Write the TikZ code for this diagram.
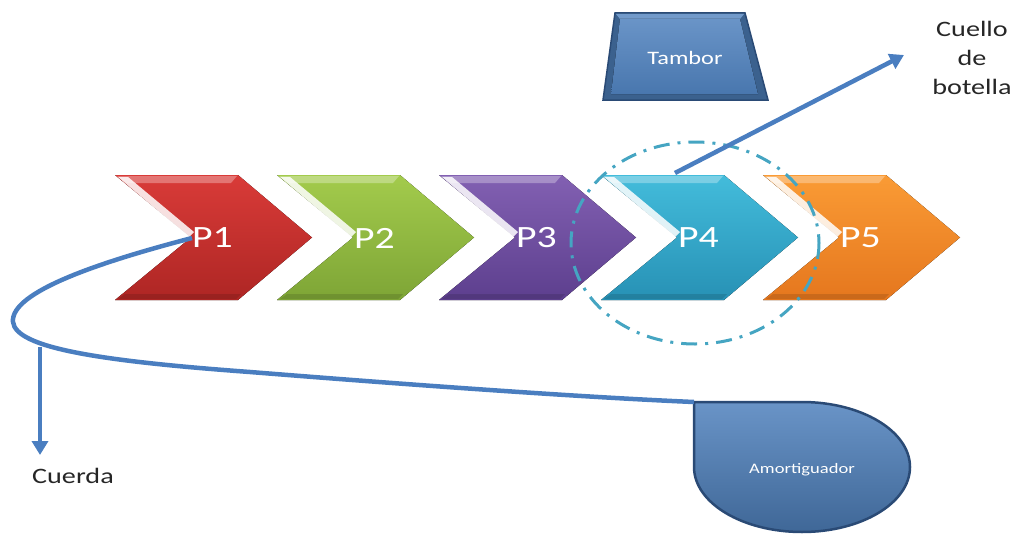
\documentclass[tikz,border=0pt]{standalone}
\usepackage{fontspec}
\setmainfont{Carlito}[FakeStretch=1.28]
\usetikzlibrary{arrows.meta,calc}

\definecolor{linkblue}{HTML}{4A7EC0}
\definecolor{ringteal}{HTML}{45A5C2}
\definecolor{boxblue}{HTML}{4F81BD}
\definecolor{boxedge}{HTML}{2A4A75}
\definecolor{redtop}{HTML}{D93B38}
\definecolor{redbot}{HTML}{AE2624}
\definecolor{greentop}{HTML}{A3CB4C}
\definecolor{greenbot}{HTML}{7EA536}
\definecolor{purpletop}{HTML}{8260B2}
\definecolor{purplebot}{HTML}{5D3F8E}
\definecolor{cyantop}{HTML}{43BCDB}
\definecolor{cyanbot}{HTML}{2791B5}
\definecolor{orangetop}{HTML}{FA9B35}
\definecolor{orangebot}{HTML}{E5771E}

\tikzset{
  steplabel/.style={text=white, font=\fontsize{31}{34}\selectfont, anchor=west, inner sep=0pt},
  link/.style={draw=linkblue, line width=4.5pt},
  linktip/.style={-{Triangle[length=14pt,width=16pt]}},
  ring/.style={draw=ringteal, line width=3pt, dash pattern=on 16pt off 8pt on 3pt off 8pt},
  sidetext/.style={text=black!85, font=\fontsize{22}{29}\selectfont, inner sep=0pt},
  shell/.style={fill=boxblue!75!black, draw=boxedge, line width=1.5pt},
  face/.style={top color=boxblue!85!white, bottom color=boxblue!92!black},
}

% one chevron: #1 left edge, #2 top colour, #3 bottom colour
\newcommand{\chevronstep}[3]{%
  \fill[top color=#2, bottom color=#3]
    (#1,175) -- ++(123,0) -- ++(74,62.5) -- ++(-74,62.5) -- ++(-123,0) -- ++(76,-62.5) -- cycle;
  \fill[white, opacity=0.3]
    (#1+2,176) -- ++(120,0) -- ++(-6,7) -- ++(-104,0) -- cycle;
  \fill[white, opacity=0.85]
    (#1+3,177) -- ++(10,0) -- ++(66,55) -- ++(-5,5) -- cycle;
  \fill[black, opacity=0.12]
    (#1+3,299) -- ++(118,0) -- ++(5,-5) -- ++(-116,0) -- cycle;
}

\begin{document}
\begin{tikzpicture}[x=1pt,y=-1pt]
  \useasboundingbox (0,0) rectangle (1012,535);

  % process chain
  \chevronstep{115}{redtop}{redbot}
  \chevronstep{277}{greentop}{greenbot}
  \chevronstep{439}{purpletop}{purplebot}
  \chevronstep{601}{cyantop}{cyanbot}
  \chevronstep{763}{orangetop}{orangebot}

  \node[steplabel] (p1) at (192,238) {P1};
  \node[steplabel] (p2) at (354,238) {P2};
  \node[steplabel] (p3) at (516,238) {P3};
  \node[steplabel] (p4) at (678,238) {P4};
  \node[steplabel] (p5) at (840,238) {P5};

  % bottleneck marker
  \draw[ring] (695,243) ellipse [x radius=124, y radius=101];

  % drum, with a bevelled face
  \fill[shell] (615,13) -- (745,13) -- (768,100) -- (603,100) -- cycle;
  \fill[boxblue!80!white] (616,14) -- (744,14) -- (740,19) -- (620,19) -- cycle;
  \fill[face] (620,19) -- (740,19) -- (758,94) -- (611,94) -- cycle;
  \node[text=white, font=\fontsize{19}{22}\selectfont] (tambor) at (685,58) {Tambor};

  % buffer
  \draw[draw=boxedge, line width=2.5pt, top color=boxblue!85!white, bottom color=boxblue!80!black]
    (694,402) -- (802,402)
    .. controls (861.6,402) and (910,431.1) .. (910,467)
    .. controls (910,502.9) and (861.6,532) .. (802,532)
    .. controls (742.4,532) and (694,502.9) .. (694,467) -- cycle;
  \node[text=white, font=\fontsize{14.5}{16}\selectfont] (amort) at (802,470) {Amortiguador};

  % labels
  \node[sidetext, align=center] (cuello) at (972,58) {Cuello\\de\\botella};
  \node[sidetext, anchor=west] (cuerda) at (32,476) {Cuerda};

  \coordinate (neck) at (904,55);
  \coordinate (p4top) at (675,173);
  \coordinate (ropefork) at (40,347);

  % rope from the buffer back to the first step
  \draw[link] (p1.west)
    .. controls (100,262) and (10,292) .. (13,322)
    .. controls (16,348) and (100,361) .. (250,372)
    .. controls (450,388) and (600,398) .. (694,402);
  \draw[link, linktip] (ropefork) -- (ropefork |- 0,455);
  \draw[link, linktip] (p4top) -- (neck);
\end{tikzpicture}
\end{document}
